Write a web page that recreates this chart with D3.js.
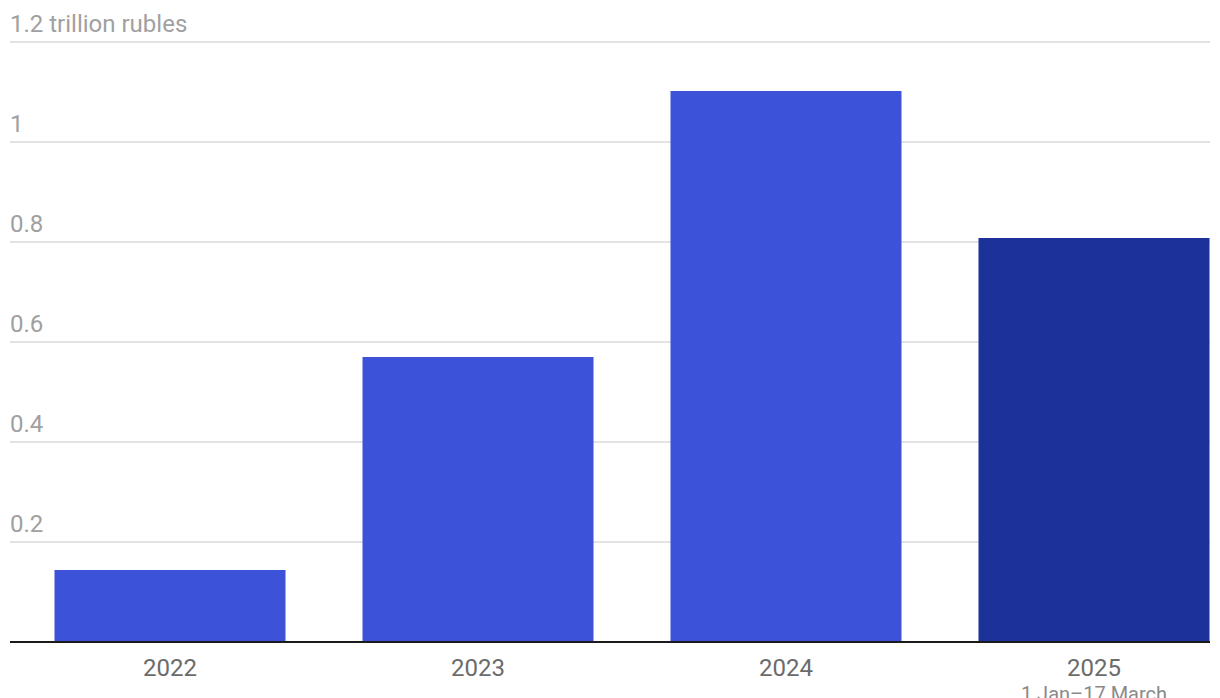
<!DOCTYPE html>
<html>
<head>
<meta charset="utf-8">
<script src="https://cdn.jsdelivr.net/npm/d3@7"></script>
<style>
  html, body { margin: 0; padding: 0; background: #fff; }
  svg { display: block; font-family: Roboto, sans-serif; }
</style>
</head>
<body>
<div id="canvas"></div>
<script>
// chart data
const years = ['2022', '2023', '2024', '2025'];
const values = [0.144, 0.57, 1.102, 0.808];
const subLabels = ['', '', '', '1 Jan–17 March'];
const yTicks = [0.2, 0.4, 0.6, 0.8, 1, 1.2];
const yTickLabels = ['0.2', '0.4', '0.6', '0.8', '1', '1.2 trillion rubles'];

const width = 1220;
const height = 698;

const svg = d3.select('#canvas')
  .append('svg')
  .attr('width', width)
  .attr('height', height);

// plot area
const plotLeft = 10, plotRight = 1210, plotTop = 42, plotBottom = 642;

const y = d3.scaleLinear()
  .domain([0, 1.2])
  .range([plotBottom, plotTop]);

// band scale runs past the right edge; last bar gets clipped there
const x = d3.scaleBand()
  .domain(years)
  .range([plotLeft, 1254])
  .paddingInner(0.25)
  .paddingOuter(0.1445);

svg.append('clipPath').attr('id', 'plot')
  .append('rect')
  .attr('x', plotLeft).attr('y', 0)
  .attr('width', plotRight - plotLeft).attr('height', height);

// gridlines + y labels
const grid = svg.append('g');
grid.selectAll('line')
  .data(yTicks)
  .join('line')
    .attr('x1', plotLeft).attr('x2', plotRight)
    .attr('y1', d => y(d)).attr('y2', d => y(d))
    .attr('stroke', '#e3e3e3')
    .attr('stroke-width', 2);

grid.selectAll('text')
  .data(yTicks)
  .join('text')
    .attr('x', plotLeft)
    .attr('y', d => y(d) - 10)
    .attr('fill', '#a0a0a0')
    .style('font-size', '24px')
    .text((d, i) => yTickLabels[i]);

// bars
svg.append('g')
  .attr('clip-path', 'url(#plot)')
  .selectAll('rect')
  .data(years)
  .join('rect')
    .attr('x', d => x(d))
    .attr('y', (d, i) => y(values[i]))
    .attr('width', x.bandwidth())
    .attr('height', (d, i) => y(0) - y(values[i]))
    .attr('fill', (d, i) => i === 3 ? '#1c3199' : '#3c53d9');

// baseline
svg.append('line')
  .attr('x1', plotLeft).attr('x2', plotRight)
  .attr('y1', y(0)).attr('y2', y(0))
  .attr('stroke', '#1a1a1a')
  .attr('stroke-width', 2);

// x labels
const xl = svg.append('g');
xl.selectAll('text.year')
  .data(years)
  .join('text')
    .attr('class', 'year')
    .attr('x', d => x(d) + x.bandwidth() / 2)
    .attr('y', 676)
    .attr('text-anchor', 'middle')
    .attr('fill', '#6b6b6b')
    .style('font-size', '24px')
    .text(d => d);

xl.selectAll('text.sub')
  .data(years)
  .join('text')
    .attr('class', 'sub')
    .attr('x', d => x(d) + x.bandwidth() / 2)
    .attr('y', 701)
    .attr('text-anchor', 'middle')
    .attr('fill', '#8a8a8a')
    .style('font-size', '20px')
    .text((d, i) => subLabels[i]);
</script>
</body>
</html>
